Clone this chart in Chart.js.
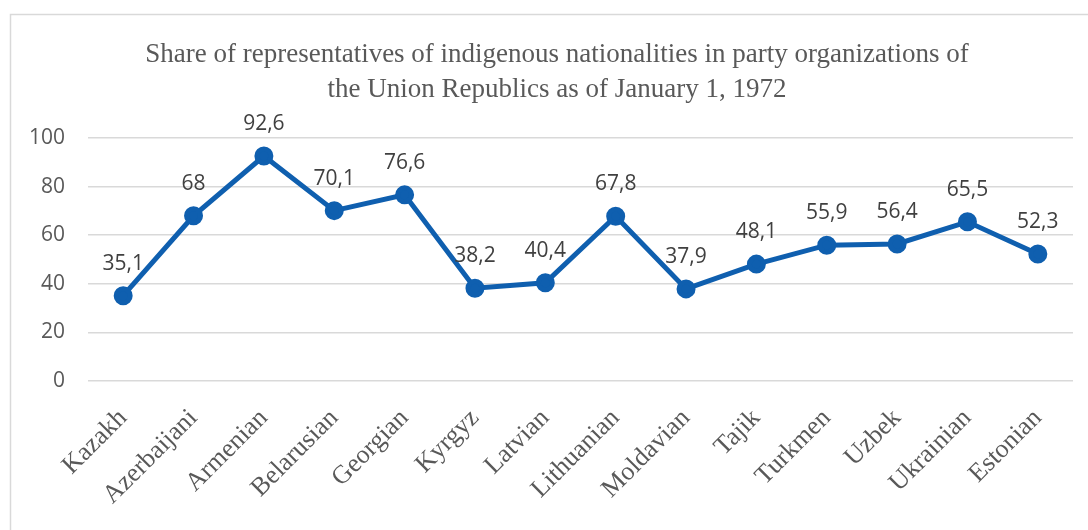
<!DOCTYPE html>
<html lang="en">
  <head>
    <meta charset="UTF-8" />
    <title>Indigenous nationalities in party organizations, 1972</title>
    <script src="https://cdn.jsdelivr.net/npm/chart.js"></script>
    <style>
      html, body {
        margin: 0;
        padding: 0;
        background: #ffffff;
        overflow: hidden;
      }
      #wrap {
        width: 1088px;
        height: 530px;
      }
    </style>
  </head>
  <body>
    <div id="wrap"><canvas id="shareChart" width="1088" height="530"></canvas></div>

    <script>
      const nationalities = [
        "Kazakh", "Azerbaijani", "Armenian", "Belarusian", "Georgian", "Kyrgyz", "Latvian",
        "Lithuanian", "Moldavian", "Tajik", "Turkmen", "Uzbek", "Ukrainian", "Estonian"
      ];
      const shares = [35.1, 68, 92.6, 70.1, 76.6, 38.2, 40.4, 67.8, 37.9, 48.1, 55.9, 56.4, 65.5, 52.3];
      const titleLines = [
        "Share of representatives of indigenous nationalities in party organizations of",
        "the Union Republics as of January 1, 1972"
      ];

      const lineColor = "#0F5FAF";
      const grey = "#595959";

      // chart frame (light grey border like the office export)
      const framePlugin = {
        id: "frame",
        beforeDraw(chart) {
          const c = chart.ctx;
          c.save();
          c.strokeStyle = "#d9d9d9";
          c.lineWidth = 1.5;
          c.beginPath();
          c.moveTo(10.5, chart.height + 5);
          c.lineTo(10.5, 14.5);
          c.lineTo(chart.width + 5, 14.5);
          c.stroke();
          c.restore();
        },
      };

      // title drawn by hand: the original is centred a bit right of the canvas middle
      const titlePlugin = {
        id: "offsetTitle",
        afterDraw(chart) {
          const c = chart.ctx;
          c.save();
          c.font = "27px 'Liberation Serif', serif";
          c.fillStyle = grey;
          c.textAlign = "center";
          c.textBaseline = "middle";
          titleLines.forEach((line, i) => {
            c.fillText(line, 557, 54.6 + i * 35.1);
          });
          c.restore();
        },
      };

      // value labels above each point
      const valueLabels = {
        id: "valueLabels",
        afterDatasetsDraw(chart) {
          const c = chart.ctx;
          const meta = chart.getDatasetMeta(0);
          c.save();
          c.font = "21px 'Open Sans', sans-serif";
          c.fillStyle = "#404040";
          c.textAlign = "center";
          c.textBaseline = "middle";
          meta.data.forEach((pt, i) => {
            const txt = String(shares[i]).replace(".", ",");
            c.fillText(txt, pt.x, pt.y - 32);
          });
          c.restore();
        },
      };

      const ctx = document.getElementById("shareChart").getContext("2d");
      new Chart(ctx, {
        type: "line",
        data: {
          labels: nationalities,
          datasets: [
            {
              data: shares,
              borderColor: lineColor,
              backgroundColor: lineColor,
              borderWidth: 5,
              pointRadius: 7,
              pointHoverRadius: 7,
              tension: 0,
            },
          ],
        },
        options: {
          responsive: false,
          animation: false,
          layout: { padding: { top: 138, right: 15, left: 0, bottom: 0 } },
          plugins: {
            legend: { display: false },
            tooltip: { enabled: false },
            title: { display: false },
          },
          scales: {
            x: {
              offset: true,
              grid: { display: false },
              border: { display: false },
              ticks: {
                color: grey,
                font: { family: "'Liberation Serif', serif", size: 26 },
                minRotation: 45,
                maxRotation: 45,
                padding: 14,
              },
              afterFit(s) {
                s.height = 149;
              },
            },
            y: {
              min: 0,
              max: 100,
              ticks: {
                stepSize: 20,
                color: grey,
                font: { family: "'Open Sans', sans-serif", size: 21 },
                padding: 23,
              },
              grid: { color: "#d9d9d9", lineWidth: 1.5, drawTicks: false },
              border: { display: false },
              afterFit(s) {
                s.width = 88;
              },
            },
          },
        },
        plugins: [framePlugin, valueLabels, titlePlugin],
      });
    </script>
  </body>
</html>
